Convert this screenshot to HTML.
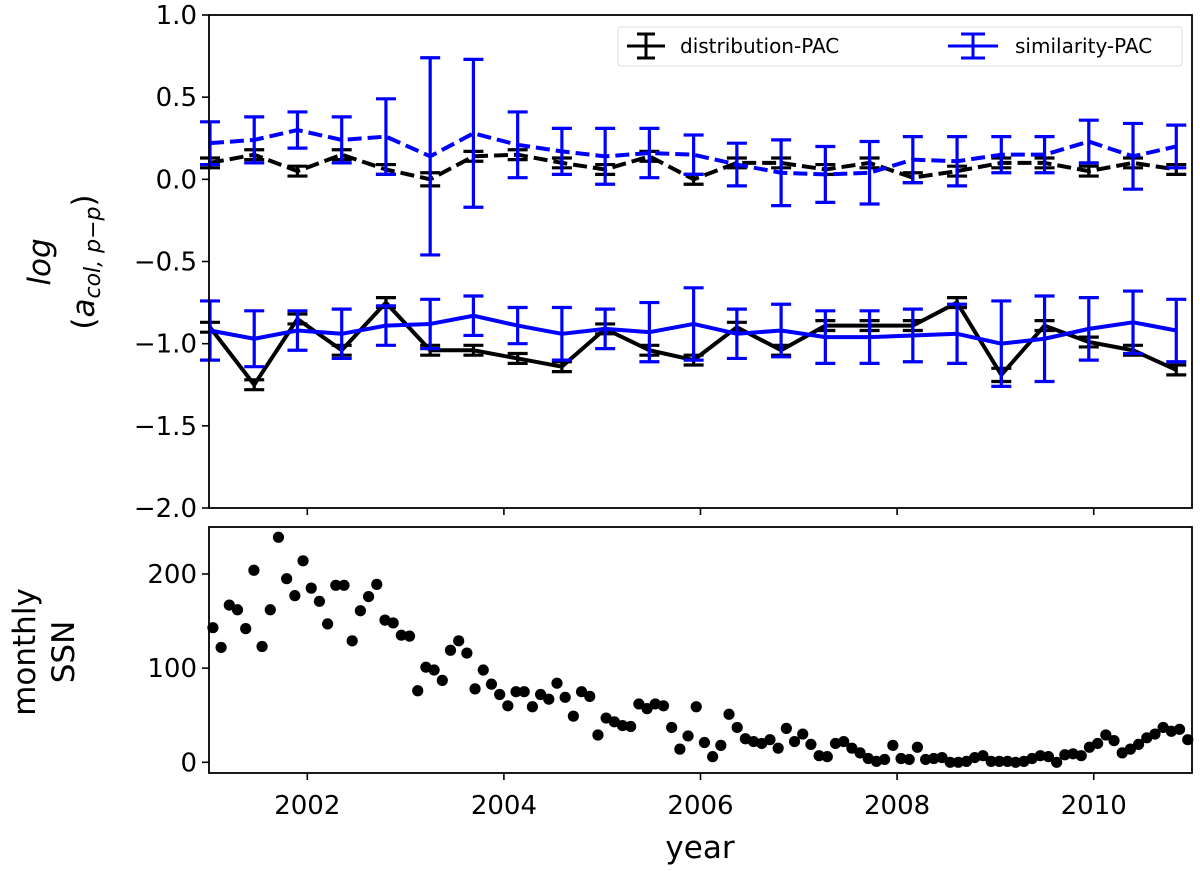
<!DOCTYPE html>
<html><head><meta charset="utf-8"><style>
body{margin:0;background:#fff}
svg text{font-family:"DejaVu Sans","Liberation Sans",sans-serif;fill:#000}
</style></head><body>
<svg id="chart" width="1200" height="871" viewBox="0 0 1200 871" xmlns="http://www.w3.org/2000/svg" style="position:absolute;left:0;top:0">
<g id="gtop"></g>
<g id="gbot"></g>
</svg>
<script>
const pacYears=[2001.01,2001.46,2001.90,2002.35,2002.80,2003.25,2003.69,2004.14,2004.59,2005.03,2005.48,2005.93,2006.37,2006.82,2007.27,2007.72,2008.16,2008.61,2009.06,2009.50,2009.95,2010.40,2010.84];
const distUpper=[0.10,0.15,0.05,0.15,0.06,0.00,0.14,0.15,0.10,0.06,0.14,0.00,0.10,0.10,0.06,0.10,0.01,0.05,0.10,0.10,0.05,0.10,0.06];
const distUpperErr=[0.03,0.03,0.03,0.03,0.03,0.04,0.03,0.03,0.03,0.03,0.03,0.03,0.03,0.03,0.03,0.03,0.03,0.03,0.03,0.03,0.03,0.03,0.03];
const simUpper=[0.22,0.24,0.30,0.24,0.26,0.14,0.28,0.21,0.17,0.14,0.16,0.15,0.09,0.04,0.03,0.04,0.12,0.11,0.15,0.15,0.23,0.14,0.20];
const simUpperErr=[0.13,0.14,0.11,0.14,0.23,0.60,0.45,0.20,0.14,0.17,0.15,0.12,0.13,0.20,0.17,0.19,0.14,0.15,0.11,0.11,0.13,0.20,0.13];
const distLower=[-0.90,-1.25,-0.85,-1.04,-0.75,-1.04,-1.04,-1.09,-1.14,-0.91,-1.04,-1.10,-0.90,-1.04,-0.89,-0.89,-0.89,-0.75,-1.19,-0.89,-0.99,-1.04,-1.16];
const distLowerErr=[0.03,0.03,0.03,0.03,0.03,0.03,0.03,0.03,0.03,0.03,0.03,0.03,0.03,0.03,0.03,0.03,0.03,0.03,0.04,0.03,0.03,0.03,0.03];
const simLower=[-0.92,-0.97,-0.92,-0.94,-0.89,-0.88,-0.83,-0.89,-0.94,-0.91,-0.93,-0.88,-0.94,-0.92,-0.96,-0.96,-0.95,-0.94,-1.00,-0.97,-0.91,-0.87,-0.92];
const simLowerErr=[0.18,0.17,0.12,0.15,0.12,0.15,0.12,0.11,0.16,0.12,0.18,0.22,0.15,0.16,0.16,0.16,0.16,0.18,0.26,0.26,0.19,0.19,0.19];
const ssn=[143,122,167,162,142,204,123,162,239,195,177,214,185,171,147,188,188,129,161,176,189,151,148,135,134,76,101,98,87,119,129,116,78,98,83,72,60,75,75,59,72,67,84,69,49,75,70,29,47,43,39,38,62,57,62,60,37,14,28,59,21,6,18,51,37,25,22,20,24,15,36,22,30,19,7,6,20,22,15,10,4,1,3,18,4,3,16,3,4,5,0,0,1,5,7,1,1,1,0,1,4,7,6,0,8,9,7,16,20,29,23,10,14,19,26,30,37,33,35,24];
const yTicksTop=[1.0,0.5,0.0,-0.5,-1.0,-1.5,-2.0];
const yTickLabelsTop=["1.0","0.5","0.0","\u22120.5","\u22121.0","\u22121.5","\u22122.0"];
const yTicksBot=[0,100,200];
const xTicks=[2002,2004,2006,2008,2010];

const NS="http://www.w3.org/2000/svg";
const L=209,R=1192,T1=15,B1=508,T2=527,B2=773;
const xs=v=>L+(v-2001)*(R-L)/10;
const y1=v=>T1+(1-v)*(B1-T1)/3;
const y2=v=>762.3-v*(762.3-574)/200;
function mk(tag,at,parent){const e=document.createElementNS(NS,tag);for(const k in at)e.setAttribute(k,at[k]);parent.appendChild(e);return e;}
const gTop=document.getElementById('gtop'),gBot=document.getElementById('gbot');

function series(vals,errs,color,dashed,name,parent){
  const g=mk('g',{},parent);
  
  
  for(let i=0;i<vals.length;i++){
    const x=xs(pacYears[i]),a=y1(vals[i]+errs[i]),b=y1(vals[i]-errs[i]);
    const eb=mk('path',{d:`M${x},${a}V${b}M${x-10},${a}H${x+10}M${x-10},${b}H${x+10}`,stroke:color,'stroke-width':3.2,fill:'none'},g);
    
    
  }
  const p=mk('polyline',{points:vals.map((v,i)=>xs(pacYears[i])+','+y1(v)).join(' '),stroke:color,'stroke-width':4,fill:'none','stroke-linejoin':'round'},g);
  if(dashed)p.setAttribute('stroke-dasharray','14,6');
  
  
}
series(distLower,distLowerErr,'#000',false,'distribution-pac-lower',gTop);
series(simLower,simLowerErr,'#00f',false,'similarity-pac-lower',gTop);
series(distUpper,distUpperErr,'#000',true,'distribution-pac-upper',gTop);
series(simUpper,simUpperErr,'#00f',true,'similarity-pac-upper',gTop);

const f1=mk('rect',{x:L,y:T1,width:R-L,height:B1-T1,fill:'none',stroke:'#000','stroke-width':1.8},gTop);


const f2=mk('rect',{x:L,y:T2,width:R-L,height:B2-T2,fill:'none',stroke:'#000','stroke-width':1.8},gBot);



yTicksTop.forEach((v,i)=>{
  const y=y1(v);
  mk('line',{x1:L-7,x2:L,y1:y,y2:y,stroke:'#000','stroke-width':1.6},gTop);
  const t=mk('text',{x:L-12,y:y+9,'text-anchor':'end','font-size':26},gTop);
  t.textContent=yTickLabelsTop[i];
  
  
});
yTicksBot.forEach(v=>{
  const y=y2(v);
  mk('line',{x1:L-7,x2:L,y1:y,y2:y,stroke:'#000','stroke-width':1.6},gBot);
  const t=mk('text',{x:L-12,y:y+9,'text-anchor':'end','font-size':26},gBot);
  t.textContent=String(v);
  
  
});
xTicks.forEach(v=>{
  const x=xs(v);
  mk('line',{x1:x,x2:x,y1:B1,y2:B1+7,stroke:'#000','stroke-width':1.6},gTop);
  mk('line',{x1:x,x2:x,y1:B2,y2:B2+7,stroke:'#000','stroke-width':1.6},gBot);
  const t=mk('text',{x:x,y:814,'text-anchor':'middle','font-size':26},gBot);
  t.textContent=String(v);
  
  
});
ssn.forEach((v,i)=>{
  const c=mk('circle',{cx:xs(2001.04+i/12),cy:y2(v),r:5.6,fill:'#000'},gBot);
  
  
});
</script>
<svg style="position:absolute;left:0;top:0" width="1200" height="871">
<text x="700" y="858" text-anchor="middle" font-size="31">year</text>
<text transform="translate(50,262) rotate(-90)" text-anchor="middle" font-size="31" font-style="italic">log</text>
<text transform="translate(94,262) rotate(-90)" text-anchor="middle" font-size="31">(<tspan font-style="italic">a</tspan><tspan font-size="22" dy="6" font-style="italic">col, p−p</tspan><tspan dy="-6">)</tspan></text>
<text transform="translate(35,652) rotate(-90)" text-anchor="middle" font-size="31">monthly</text>
<text transform="translate(74,652) rotate(-90)" text-anchor="middle" font-size="31">SSN</text>
<g>
<rect x="618" y="27" width="564" height="39" rx="3" fill="#fff" stroke="#ddd" stroke-width="1"/>
<path d="M627,46H665M646,34V58M637,34H655M637,58H655" stroke="#000" stroke-width="3" fill="none"/>
<text x="680" y="53" font-size="20">distribution-PAC</text>
<path d="M948,46H998M973,34V58M961,34H985M961,58H985" stroke="#00f" stroke-width="3" fill="none"/>
<text x="1015" y="53" font-size="20">similarity-PAC</text>
</g>
</svg>
</body></html>
